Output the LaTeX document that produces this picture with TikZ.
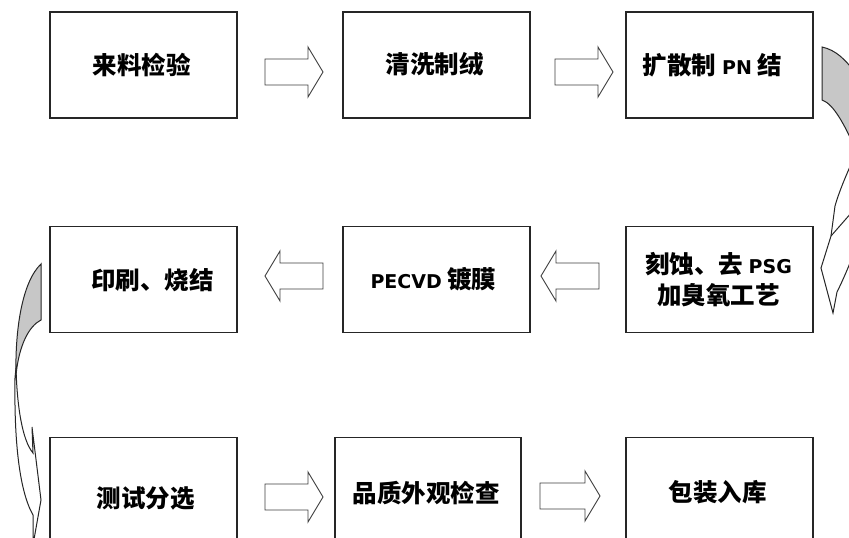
\documentclass[tikz,border=0pt]{standalone}
\usepackage{fontspec}
\newfontfamily\cjk{Noto Sans CJK SC}
\newfontfamily\latf{DejaVu Sans}
\newcommand{\latn}[1]{{\latf\bfseries\fontsize{19}{22}\selectfont #1}}
\tikzset{
  stepbox/.style={draw=black!85, line width=1.1pt, minimum width=187pt, minimum height=106pt, inner sep=0pt},
  txt/.style={font=\cjk\bfseries\fontsize{24.5}{31}\selectfont, align=center, inner sep=0pt},
  blk/.style={draw=black!75, line width=0.9pt, fill=white, line join=miter},
  cback/.style={draw=black!85, line width=1pt, fill=black!22},
  cfront/.style={draw=black!85, line width=1pt, fill=white, line join=miter},
}
\newcommand{\rarr}[3]{\draw[blk] ({#1},{#3-13}) -- ({#2-15},{#3-13}) -- ({#2-15},{#3-25}) -- ({#2},{#3}) -- ({#2-15},{#3+25}) -- ({#2-15},{#3+13}) -- ({#1},{#3+13}) -- cycle;}
\newcommand{\larr}[3]{\draw[blk] ({#1},{#3-13}) -- ({#2+15},{#3-13}) -- ({#2+15},{#3-25}) -- ({#2},{#3}) -- ({#2+15},{#3+25}) -- ({#2+15},{#3+13}) -- ({#1},{#3+13}) -- cycle;}
\begin{document}
\begin{tikzpicture}[x=1pt, y=-1pt]
\clip (0,0) rectangle (849,538);
\fill[white] (0,0) rectangle (849,538);
% boxes
\node[stepbox] (b1) at (143.5,65) {};
\node[stepbox] (b2) at (436.5,65) {};
\node[stepbox] (b3) at (719.5,65) {};
\node[stepbox] (b4) at (143.5,279.5) {};
\node[stepbox] (b5) at (436.5,279.5) {};
\node[stepbox] (b6) at (719.5,279.5) {};
\node[stepbox] (b7) at (143.5,490.5) {};
\node[stepbox, minimum width=186pt] (b8) at (428,490.5) {};
\node[stepbox] (b9) at (719.5,490.5) {};
% texts
\node[txt] (t1) at ([xshift=-2pt]b1.center) {来料检验};
\node[txt] (t2) at ([xshift=-2pt]b2.center) {清洗制绒};
\node[txt] (t3) at ([xshift=-7pt]b3.center) {扩散制 \latn{PN} 结};
\node[txt] (t4) at ([xshift=9pt,yshift=-1pt]b4.center) {印刷、烧结};
\node[txt] (t5) at ([xshift=-3pt]b5.center) {\latn{PECVD} 镀膜};
\node[txt] (t6) at ([xshift=-1pt]b6.center) {刻蚀、去 \latn{PSG}\\加臭氧工艺};
\node[txt] (t7) at ([xshift=2pt,yshift=-8pt]b7.center) {测试分选};
\node[txt] (t8) at ([xshift=-2pt,yshift=-3pt]b8.center) {品质外观检查};
\node[txt] (t9) at ([xshift=-2pt,yshift=-2pt]b9.center) {包装入库};
% block arrows
\rarr{265}{323}{72}
\rarr{555}{613}{72}
\larr{323}{265}{276}
\larr{599}{541}{276}
\rarr{265}{323}{497}
\rarr{540}{600}{496}
% right curved arrow (b3 to b6)
\draw[cback] (822,47) .. controls (836,50) and (846,60) .. (856,74) -- (856,150) .. controls (845,126) and (834,104) .. (822,100) -- cycle;
\draw[cfront] (852,162) .. controls (845,178) and (839,192) .. (835,206) -- (831,236) -- (821,268) -- (833,313) -- (837,292) .. controls (843,280) and (848,268) .. (852,258) -- cycle;
\draw[black!85, line width=1pt] (831,236) -- (852,212);
% left curved arrow (b4 to b7)
\draw[cback] (41,264) -- (41,320) .. controls (29,326) and (19,345) .. (16,375) .. controls (15,330) and (22,282) .. (41,264) -- cycle;
\draw[cfront] (16,368) .. controls (17,405) and (22,440) .. (33,453) -- (32,427) -- (41,500) -- (33,545) -- (33,515) .. controls (20,492) and (14,445) .. (15,378) -- cycle;
\end{tikzpicture}
\end{document}
